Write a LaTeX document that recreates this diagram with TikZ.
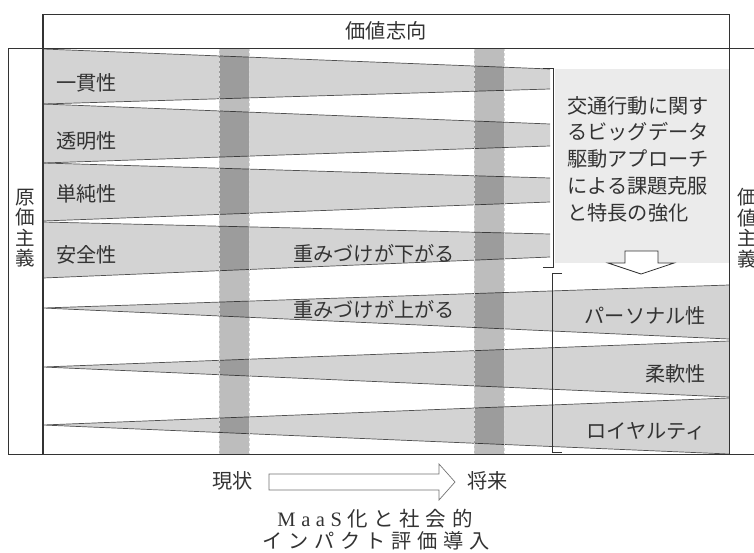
\documentclass[tikz,border=0pt]{standalone}
\usepackage{fontspec}
\setmainfont{Liberation Serif}
\newfontfamily\jp{Noto Sans CJK JP}
\definecolor{wedgegray}{HTML}{D3D3D3}
\definecolor{edgegray}{HTML}{505050}
\definecolor{boxgray}{HTML}{EBEBEB}
\definecolor{framegray}{HTML}{333333}
\definecolor{txt}{HTML}{333333}
\definecolor{dashgray}{HTML}{D8D8D8}
\newcommand{\gp}{\hspace{5.6pt}}
\begin{document}
\begin{tikzpicture}[x=1pt,y=-1pt,
  wedgefill/.style={fill=wedgegray},
  wedgeedge/.style={draw=edgegray,line width=0.7pt},
  band/.style={fill=black,fill opacity=0.26},
  bandedge/.style={draw=dashgray,dashed,dash pattern=on 3pt off 2pt,line width=0.6pt},
  frame/.style={draw=framegray,line width=0.9pt},
  bracketline/.style={draw=black!80,line width=0.8pt},
  lbl/.style={font=\jp\fontsize{20.2}{24}\selectfont,text=txt,inner sep=0pt},
  vlbl/.style={font=\jp\fontsize{19.5}{20.5}\selectfont,text=txt,inner sep=0pt,align=center},
  hollow/.style={draw=black!55,fill=white,line width=0.7pt},
  hollowdark/.style={draw=black!80,fill=white,line width=0.8pt}]
\clip (0,0) rectangle (754,552);
\fill[white] (0,0) rectangle (754,552);
% light gray box
\fill[boxgray] (555,69) rectangle (729,263);
% decreasing wedges
\fill[wedgefill] (43,49) -- (550,69) -- (550,89) -- (43,104) -- cycle;
\fill[wedgefill] (43,104) -- (550,124) -- (550,146) -- (43,163) -- cycle;
\fill[wedgefill] (43,163) -- (550,178) -- (550,202) -- (43,221) -- cycle;
\fill[wedgefill] (43,222) -- (550,234) -- (550,257) -- (43,278) -- cycle;
\draw[wedgeedge] (43,49) -- (550,69) (43,104) -- (550,89);
\draw[wedgeedge] (43,104) -- (550,124) (43,163) -- (550,146);
\draw[wedgeedge] (43,163) -- (550,178) (43,221) -- (550,202);
\draw[wedgeedge] (43,222) -- (550,234) (43,278) -- (550,257);
% increasing wedges
\fill[wedgefill] (43,308) -- (729,285) -- (729,339) -- cycle;
\fill[wedgefill] (43,367) -- (729,341) -- (729,397) -- cycle;
\fill[wedgefill] (43,425) -- (729,398) -- (729,454) -- cycle;
\draw[wedgeedge] (43,308) -- (729,285) (43,308) -- (729,339);
\draw[wedgeedge] (43,367) -- (729,341) (43,367) -- (729,397);
\draw[wedgeedge] (43,425) -- (729,398) (43,425) -- (729,454);
% vertical bands
\fill[band] (219,48) rectangle (249,454);
\fill[band] (474,48) rectangle (504,454);
\draw[bandedge] (219,48) -- (219,454) (249,48) -- (249,454);
\draw[bandedge] (474,48) -- (474,454) (504,48) -- (504,454);
% frame
\draw[frame] (43,14) -- (729,14);
\draw[frame] (8,48) -- (754,48);
\draw[frame] (8,454) -- (754,454);
\draw[frame] (8,48) -- (8,454);
\draw[draw=framegray,line width=1.3pt] (43,14) -- (43,454);
\draw[frame] (729,14) -- (729,454);
% brackets
\draw[bracketline] (543,68) -- (553,68) -- (553,267) -- (543,267);
\draw[bracketline] (562,273) -- (552,273) -- (552,452) -- (562,452);
% down arrow
\draw[hollowdark] (625,251) -- (658,251) -- (658,263) -- (674,263) -- (641,274) -- (608,263) -- (625,263) -- cycle;
% right arrow
\draw[hollow] (269,474) -- (439,474) -- (439,464) -- (455,482) -- (439,500) -- (439,490) -- (269,490) -- cycle;
% texts
\node[lbl] (head) at (386,31) {価値志向};
\node[vlbl] (left) at (25,228) {原\\価\\主\\義};
\node[vlbl] (right) at (747,228) {価\\値\\主\\義};
\node[lbl,anchor=west] (c1) at (56,83) {一貫性};
\node[lbl,anchor=west] (c2) at (56,141) {透明性};
\node[lbl,anchor=west] (c3) at (56,194) {単純性};
\node[lbl,anchor=west] (c4) at (56,255) {安全性};
\node[lbl] (down) at (374,254) {重みづけが下がる};
\node[lbl] (up) at (374,310) {重みづけが上がる};
\node[lbl,anchor=north west,align=left,font=\jp\fontsize{20.2}{26.8}\selectfont] (big) at (567,96) {交通行動に関す\\るビッグデータ\\駆動アプローチ\\による課題克服\\と特長の強化};
\node[lbl,anchor=east] (p1) at (706,316) {パーソナル性};
\node[lbl,anchor=east] (p2) at (706,374) {柔軟性};
\node[lbl,anchor=east] (p3) at (706,431) {ロイヤルティ};
\node[lbl,anchor=east] (now) at (253,481) {現状};
\node[lbl,anchor=west] (fut) at (467,481) {将来};
\node[lbl,font=\fontsize{20.5}{24}\selectfont] (m1) at (375,519) {M\gp a\gp a\gp S{\jp\gp 化\gp と\gp 社\gp 会\gp 的}};
\node[lbl] (m2) at (376,541) {イ\gp ン\gp パ\gp ク\gp ト\gp 評\gp 価\gp 導\gp 入};
\end{tikzpicture}
\end{document}
